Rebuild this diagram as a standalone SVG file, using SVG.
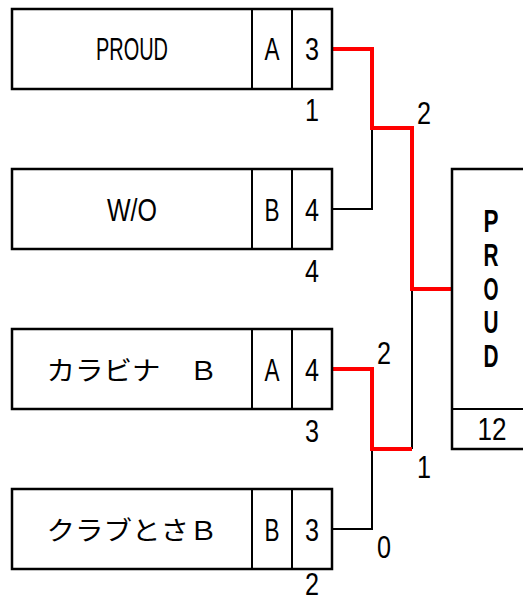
<svg xmlns="http://www.w3.org/2000/svg" width="523" height="603" viewBox="0 0 523 603">
<style>
.box{fill:#fff;stroke:#000;stroke-width:2.5}
.div{stroke:#000;stroke-width:2}
.t{font-family:"Liberation Sans",Arial,sans-serif;font-size:32px;fill:#000;text-anchor:middle}
.jp{font-family:"Noto Sans CJK JP","Noto Sans CJK SC",sans-serif;font-size:26px;fill:#000;text-anchor:middle}
.b{font-weight:bold}
.win{fill:none;stroke:#ff0000;stroke-width:4}
.lose{fill:none;stroke:#000;stroke-width:2}
</style>
<rect width="523" height="603" fill="#fff"/>
<g id="connectors">
<polyline class="lose" points="332,209 372,209 372,128"/>
<polyline class="lose" points="332,529 372,529 372,449"/>
<polyline class="lose" points="412,289 412,449"/>
<polyline class="win" points="332,49 372,49 372,128 412,128 412,289 452,289"/>
<polyline class="win" points="332,369 372,369 372,449 412,449"/>
</g>
<g id="team1">
<rect class="box" x="12" y="9" width="320" height="80"/>
<line class="div" x1="252" y1="9" x2="252" y2="89"/>
<line class="div" x1="292" y1="9" x2="292" y2="89"/>
<text class="t" x="132" y="60" textLength="72" lengthAdjust="spacingAndGlyphs">PROUD</text>
<text class="t" x="272" y="60" textLength="15" lengthAdjust="spacingAndGlyphs">A</text>
<text class="t" x="312" y="60" textLength="14" lengthAdjust="spacingAndGlyphs">3</text>
<text class="t" x="312" y="121" textLength="14" lengthAdjust="spacingAndGlyphs">1</text>
</g>
<g id="team2">
<rect class="box" x="12" y="169" width="320" height="80"/>
<line class="div" x1="252" y1="169" x2="252" y2="249"/>
<line class="div" x1="292" y1="169" x2="292" y2="249"/>
<text class="t" x="132" y="221" textLength="50" lengthAdjust="spacingAndGlyphs">W/O</text>
<text class="t" x="272" y="221" textLength="15" lengthAdjust="spacingAndGlyphs">B</text>
<text class="t" x="312" y="221" textLength="14" lengthAdjust="spacingAndGlyphs">4</text>
<text class="t" x="312" y="282" textLength="14" lengthAdjust="spacingAndGlyphs">4</text>
</g>
<g id="team3">
<rect class="box" x="12" y="329" width="320" height="80"/>
<line class="div" x1="252" y1="329" x2="252" y2="409"/>
<line class="div" x1="292" y1="329" x2="292" y2="409"/>
<text class="jp" x="132" y="380" textLength="171" lengthAdjust="spacingAndGlyphs">カラビナ　Ｂ</text>
<text class="t" x="272" y="381" textLength="15" lengthAdjust="spacingAndGlyphs">A</text>
<text class="t" x="312" y="381" textLength="14" lengthAdjust="spacingAndGlyphs">4</text>
<text class="t" x="312" y="442" textLength="14" lengthAdjust="spacingAndGlyphs">3</text>
</g>
<g id="team4">
<rect class="box" x="12" y="489" width="320" height="80"/>
<line class="div" x1="252" y1="489" x2="252" y2="569"/>
<line class="div" x1="292" y1="489" x2="292" y2="569"/>
<text class="jp" x="132" y="540" textLength="171" lengthAdjust="spacingAndGlyphs">クラブとさＢ</text>
<text class="t" x="272" y="541" textLength="15" lengthAdjust="spacingAndGlyphs">B</text>
<text class="t" x="312" y="541" textLength="14" lengthAdjust="spacingAndGlyphs">3</text>
<text class="t" x="312" y="595" textLength="14" lengthAdjust="spacingAndGlyphs">2</text>
</g>
<g id="match-labels">
<text class="t" x="424" y="124" textLength="14" lengthAdjust="spacingAndGlyphs">2</text>
<text class="t" x="384" y="364" textLength="14" lengthAdjust="spacingAndGlyphs">2</text>
<text class="t" x="424" y="478" textLength="14" lengthAdjust="spacingAndGlyphs">1</text>
<text class="t" x="384" y="558" textLength="14" lengthAdjust="spacingAndGlyphs">0</text>
</g>
<g id="champion">
<rect class="box" x="452" y="169" width="80" height="280"/>
<line class="div" x1="452" y1="409" x2="532" y2="409"/>
<text class="t b" x="491" y="232" textLength="15" lengthAdjust="spacingAndGlyphs">P</text>
<text class="t b" x="491" y="266" textLength="15" lengthAdjust="spacingAndGlyphs">R</text>
<text class="t b" x="491" y="300" textLength="15" lengthAdjust="spacingAndGlyphs">O</text>
<text class="t b" x="491" y="333" textLength="15" lengthAdjust="spacingAndGlyphs">U</text>
<text class="t b" x="491" y="367" textLength="15" lengthAdjust="spacingAndGlyphs">D</text>
<text class="t" x="492" y="440" textLength="29" lengthAdjust="spacingAndGlyphs">12</text>
</g>
</svg>
